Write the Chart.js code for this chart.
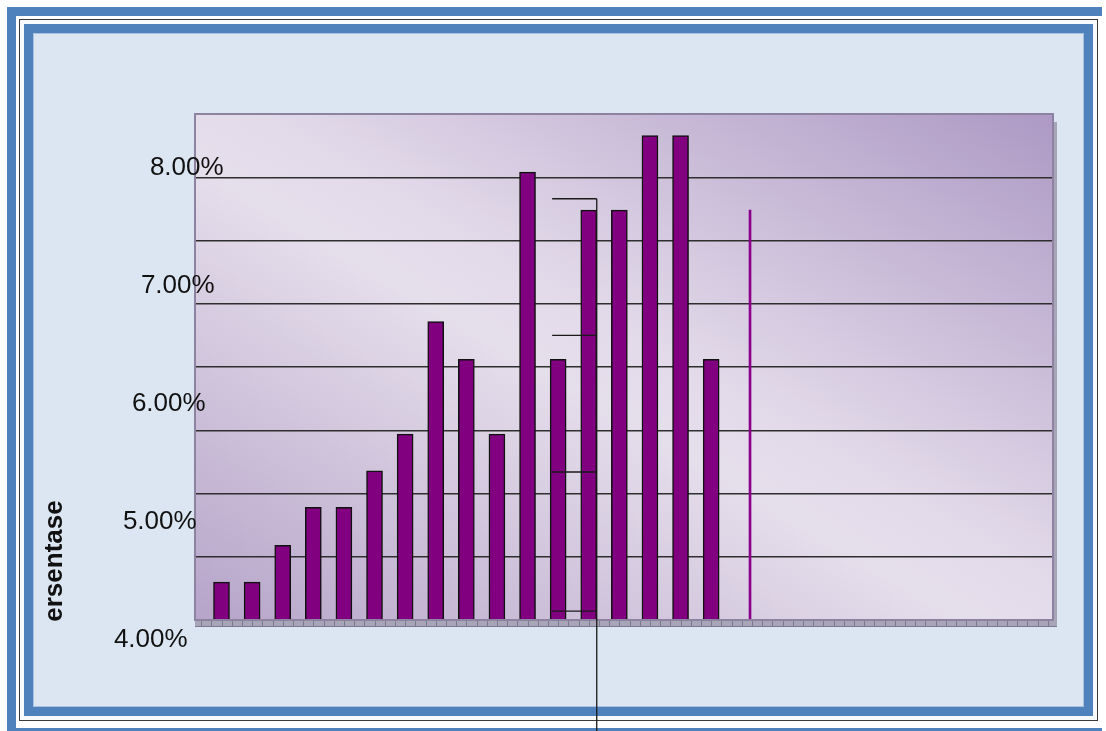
<!DOCTYPE html>
<html>
<head>
<meta charset="utf-8">
<script src="https://cdn.jsdelivr.net/npm/chart.js@4/dist/chart.umd.min.js"></script>
<style>
    html, body { margin: 0; padding: 0; background: #ffffff; }
    body { width: 1106px; height: 731px; position: relative; overflow: hidden; }
    .outer { position: absolute; left: 7px; top: 7px; width: 1095px; height: 730px;
             border: 9px solid #4F81BD; border-right: none; box-sizing: border-box; }
    .thin { position: absolute; left: 19px; top: 19px; width: 1079px; height: 702px;
            border: 1px solid #3a3a3a; box-sizing: border-box; background: #f7f9fc; }
    .inner { position: absolute; left: 24px; top: 24px; width: 1069px; height: 692px;
             border: 9px solid #4F81BD; box-sizing: border-box; background: #DCE6F2;
             box-shadow: inset 0 0 0 1px #A9C0DE; }
    #chart { position: absolute; left: 0; top: 0; }
</style>
</head>
<body>
<div class="outer"></div>
<div class="thin"></div>
<div class="inner"></div>
<canvas id="chart" width="1106" height="731"></canvas>
<script>
// bar slots and values (percent)
const barSlots = [1, 2, 3, 4, 5, 6, 7, 8, 9, 10, 11, 12, 13, 14, 15, 16, 17];
const barValues = [4.30, 4.30, 4.59, 4.89, 4.89, 5.18, 5.47, 6.36, 6.06, 5.47, 7.54, 6.06, 7.24, 7.24, 7.83, 7.83, 6.06];

// the thin purple stroke right of the bars
const stemSlots = [18.27];
const stemValues = [7.24];

// stray bracket next to bars 12/13
const bracketLevels = [7.33, 6.25, 5.17, 4.07];

const tickValues = [4, 5, 6, 7, 8];
const tickLabels = ['4.00%', '5.00%', '6.00%', '7.00%', '8.00%'];
const axisTitle = 'ersentase';

const barData = barSlots.map(function(s, i) { return { x: s, y: barValues[i] }; });
const stemData = stemSlots.map(function(s, i) { return { x: s, y: stemValues[i] }; });

const plotDecor = {
    id: 'plotDecor',
    beforeDraw: function(chart) {
        const ctx = chart.ctx;
        const a = chart.chartArea;
        const cx = (a.left + a.right) / 2, cy = (a.top + a.bottom) / 2;
        const w = a.right - a.left, h = a.bottom - a.top;
        const len = Math.sqrt(w * w + h * h);
        const ux = -h / len, uy = w / len;
        const half = (w / 2 * h + h / 2 * w) / len;
        const g = ctx.createLinearGradient(cx - ux * half, cy - uy * half, cx + ux * half, cy + uy * half);
        g.addColorStop(0, '#AD99C4');
        g.addColorStop(0.47, '#E3DBEA');
        g.addColorStop(0.55, '#E5DEEB');
        g.addColorStop(1, '#B6A4C9');
        ctx.save();
        ctx.fillStyle = g;
        ctx.fillRect(a.left, a.top, w, h);
        ctx.restore();
    },
    afterDraw: function(chart) {
        const ctx = chart.ctx;
        const a = chart.chartArea;
        const xs = chart.scales.x;
        const ys = chart.scales.y;
        const yl = chart.scales.yLabels;
        ctx.save();

        // depth strips on the right and bottom
        ctx.fillStyle = '#A9A5B9';
        ctx.fillRect(a.right, a.top + 8, 4, a.bottom - a.top - 2);
        ctx.fillRect(a.left, a.bottom, a.right - a.left + 4, 6);
        ctx.strokeStyle = '#7C7890';
        ctx.lineWidth = 1;
        ctx.beginPath();
        for (let k = Math.ceil(xs.min * 3); k <= xs.max * 3; k++) {
            const px = Math.round(xs.getPixelForValue(k / 3)) + 0.5;
            ctx.moveTo(px, a.bottom);
            ctx.lineTo(px, a.bottom + 6);
        }
        ctx.moveTo(a.left, a.bottom + 6.5);
        ctx.lineTo(a.right + 4, a.bottom + 6.5);
        ctx.stroke();

        // plot border
        ctx.strokeStyle = '#8D83A0';
        ctx.lineWidth = 2;
        ctx.strokeRect(a.left, a.top, a.right - a.left, a.bottom - a.top);

        // stray bracket
        const bx = xs.getPixelForValue(13) + 8;
        const bl = xs.getPixelForValue(12) - 6;
        ctx.strokeStyle = '#1a1a1a';
        ctx.lineWidth = 1.3;
        ctx.beginPath();
        bracketLevels.forEach(function(v) {
            const py = ys.getPixelForValue(v);
            ctx.moveTo(bl, py);
            ctx.lineTo(bx, py);
        });
        ctx.moveTo(bx, ys.getPixelForValue(bracketLevels[0]));
        ctx.lineTo(bx, chart.height);
        ctx.stroke();

        // tick labels
        ctx.fillStyle = '#111111';
        ctx.font = '26px "Liberation Sans", Arial, sans-serif';
        ctx.textAlign = 'right';
        ctx.textBaseline = 'middle';
        tickValues.forEach(function(v, i) {
            const py = yl.getPixelForValue(v);
            const px = a.left + 10.6 + 9 * (v - 6);
            ctx.fillText(tickLabels[i], px, py);
        });

        // axis title
        ctx.font = 'bold 26px "Liberation Sans", Arial, sans-serif';
        ctx.textAlign = 'center';
        ctx.textBaseline = 'alphabetic';
        ctx.translate(62, 561);
        ctx.rotate(-Math.PI / 2);
        ctx.fillText(axisTitle, 0, 0);
        ctx.restore();
    }
};

const config = {
    type: 'bar',
    data: {
        datasets: [{
            label: 'Persentase',
            data: barData,
            backgroundColor: '#800080',
            borderColor: '#111111',
            borderWidth: 1.5,
            borderSkipped: 'start',
            barThickness: 16,
            grouped: false
        }, {
            label: 'stem',
            data: stemData,
            backgroundColor: '#8A008A',
            borderWidth: 0,
            barThickness: 2,
            grouped: false
        }]
    },
    options: {
        responsive: false,
        animation: false,
        devicePixelRatio: 1,
        layout: { padding: { left: 195, top: 114, right: 53, bottom: 111 } },
        plugins: {
            legend: { display: false },
            tooltip: { enabled: false }
        },
        scales: {
            x: {
                type: 'linear',
                display: false,
                offset: false,
                min: 0.134,
                max: 28.17
            },
            y: {
                min: 4,
                max: 8,
                ticks: { display: false, stepSize: 0.5 },
                border: { display: false },
                grid: {
                    drawTicks: false,
                    lineWidth: 1.5,
                    color: function(c) {
                        if (c.tick && (c.tick.value === 4 || c.tick.value === 8)) return 'rgba(0,0,0,0)';
                        return '#2e2e2e';
                    }
                }
            },
            yLabels: {
                type: 'linear',
                position: 'left',
                display: false,
                min: 4.172,
                max: 8.454
            }
        }
    },
    plugins: [plotDecor]
};

const myChart = new Chart(document.getElementById('chart'), config);
</script>
</body>
</html>
